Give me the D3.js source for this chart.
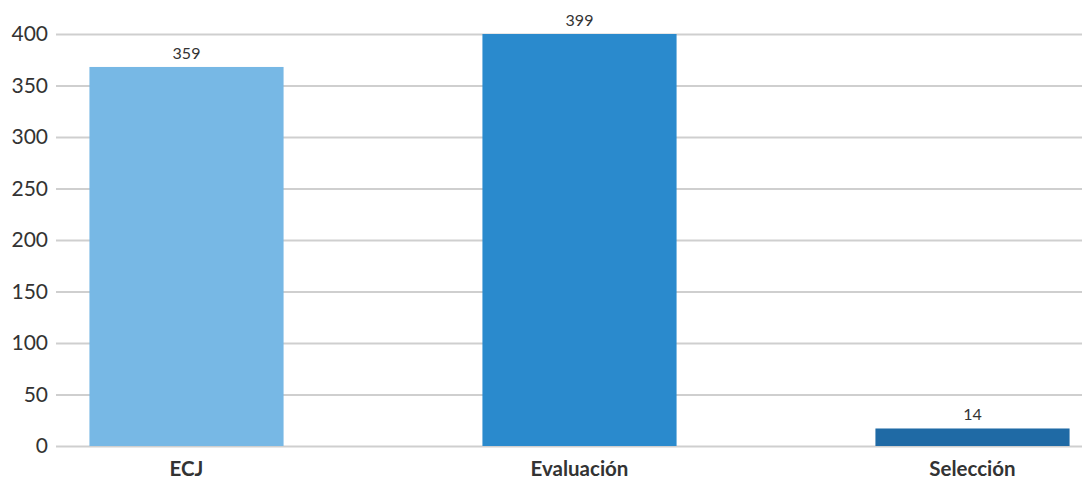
<!DOCTYPE html>
<html>
<head>
<meta charset="utf-8">
<script src="https://cdn.jsdelivr.net/npm/d3@7"></script>
<style>
  body { margin: 0; background: #fff; }
  text { font-family: Lato, "Open Sans", sans-serif; fill: #333; }
</style>
</head>
<body>
<script>
var width = 1082,
    height = 481;

// categories, bar heights as drawn, and the labels printed above them
var categories = ["ECJ", "Evaluación", "Selección"];
var barValues = [368, 400, 17];
var barLabels = ["359", "399", "14"];
var barColors = ["#77b8e5", "#2a8acd", "#1f6aa5"];
var yTicks = [0, 50, 100, 150, 200, 250, 300, 350, 400];

var x = d3.scaleBand()
    .domain(categories)
    .range([-10, 1169])
    .paddingInner(0.506)
    .paddingOuter(0.253);

var y = d3.scaleLinear()
    .domain([0, 400])
    .range([446, 34]);

var svg = d3.select("body").append("svg")
    .attr("width", width)
    .attr("height", height);

// grid lines + tick labels
var yAxis = svg.append("g")
    .attr("transform", "translate(56,0)")
    .call(d3.axisLeft(y).tickValues(yTicks).tickSize(-(width - 56)).tickPadding(8));

yAxis.select(".domain").remove();
yAxis.selectAll(".tick line")
    .attr("stroke", "#cfcfcf")
    .attr("stroke-width", 2);
yAxis.selectAll(".tick text")
    .attr("font-size", 21)
    .attr("fill", "#333")
    .style("font-family", "Lato, sans-serif");

// bars
svg.append("g")
    .selectAll("rect")
    .data(categories)
    .enter()
    .append("rect")
    .attr("x", d => x(d))
    .attr("width", x.bandwidth())
    .attr("y", (d, i) => y(barValues[i]))
    .attr("height", (d, i) => y(0) - y(barValues[i]))
    .attr("fill", (d, i) => barColors[i]);

// value labels
svg.append("g")
    .selectAll("text")
    .data(categories)
    .enter()
    .append("text")
    .attr("x", d => x(d) + x.bandwidth() / 2)
    .attr("y", (d, i) => y(barValues[i]) - 8)
    .attr("text-anchor", "middle")
    .attr("font-size", 16)
    .text((d, i) => barLabels[i]);

// category labels
svg.append("g")
    .selectAll("text")
    .data(categories)
    .enter()
    .append("text")
    .attr("x", d => x(d) + x.bandwidth() / 2)
    .attr("y", 476)
    .attr("text-anchor", "middle")
    .attr("font-size", 20.5)
    .attr("font-weight", "bold")
    .text(d => d);
</script>
</body>
</html>
